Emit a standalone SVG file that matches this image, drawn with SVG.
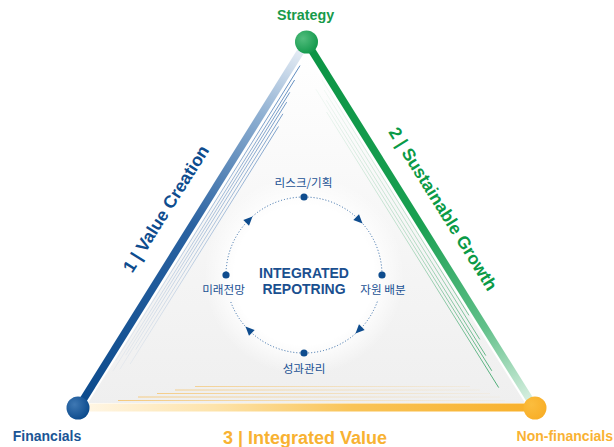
<svg xmlns="http://www.w3.org/2000/svg" width="614" height="447" viewBox="0 0 614 447">
<style>
.lat{font-family:"Liberation Sans",Arial,sans-serif;font-weight:bold}
.kr{font-family:"Noto Sans CJK KR","Noto Sans",sans-serif;font-size:11.6px;fill:#1b5294}
.thinb{stroke:url(#gThinB);stroke-width:0.9;fill:none}
.thing{stroke:url(#gThinG);stroke-width:0.9;fill:none}
.thino{stroke:url(#gThinO);stroke-width:1.2;fill:none}
.dot{fill:#0e4c8e}
.arr{fill:#0e4c8e}
</style>
<defs>
<linearGradient id="gFill" x1="0" y1="50" x2="0" y2="405" gradientUnits="userSpaceOnUse">
<stop offset="0" stop-color="#ffffff"/><stop offset="0.45" stop-color="#f7f7f7"/><stop offset="1" stop-color="#efefef"/>
</linearGradient>
<radialGradient id="gGlow" cx="304" cy="275" r="100" gradientUnits="userSpaceOnUse">
<stop offset="0" stop-color="#fff"/><stop offset="0.7" stop-color="#fff"/><stop offset="1" stop-color="#fff" stop-opacity="0"/>
</radialGradient>
<linearGradient id="gBlue" x1="78" y1="408" x2="306.5" y2="42" gradientUnits="userSpaceOnUse">
<stop offset="0" stop-color="#0b4a8c"/><stop offset="0.5" stop-color="#2a62a1"/><stop offset="0.8" stop-color="#8fb0d2"/><stop offset="1" stop-color="#f0f4f9"/>
</linearGradient>
<linearGradient id="gGreen" x1="306.5" y1="42" x2="535" y2="408" gradientUnits="userSpaceOnUse">
<stop offset="0" stop-color="#0b9444"/><stop offset="0.5" stop-color="#1aa052"/><stop offset="0.78" stop-color="#62c08a"/><stop offset="1" stop-color="#e4f4ea"/>
</linearGradient>
<linearGradient id="gOrange" x1="78" y1="408" x2="535" y2="408" gradientUnits="userSpaceOnUse">
<stop offset="0" stop-color="#fff7e8"/><stop offset="0.3" stop-color="#fde3aa"/><stop offset="0.6" stop-color="#f9c458"/><stop offset="1" stop-color="#f8b02a"/>
</linearGradient>
<linearGradient id="gThinB" x1="300" y1="65" x2="115" y2="370" gradientUnits="userSpaceOnUse">
<stop offset="0" stop-color="#3f74b2" stop-opacity="0.95"/><stop offset="0.6" stop-color="#6f97c6" stop-opacity="0.5"/><stop offset="1" stop-color="#a9c0dc" stop-opacity="0.15"/>
</linearGradient>
<linearGradient id="gThinG" x1="320" y1="80" x2="500" y2="390" gradientUnits="userSpaceOnUse">
<stop offset="0" stop-color="#3aaa68" stop-opacity="0.05"/><stop offset="0.5" stop-color="#3aaa68" stop-opacity="0.35"/><stop offset="1" stop-color="#2ea060" stop-opacity="0.95"/>
</linearGradient>
<linearGradient id="gThinO" x1="110" y1="0" x2="510" y2="0" gradientUnits="userSpaceOnUse">
<stop offset="0" stop-color="#f6c266" stop-opacity="0.85"/><stop offset="0.5" stop-color="#f6c266" stop-opacity="0.4"/><stop offset="1" stop-color="#f6c266" stop-opacity="0.05"/>
</linearGradient>
<radialGradient id="gBallS" cx="0.35" cy="0.35" r="0.7">
<stop offset="0" stop-color="#52bd7d"/><stop offset="1" stop-color="#12984b"/>
</radialGradient>
<radialGradient id="gBallF" cx="0.35" cy="0.35" r="0.7">
<stop offset="0" stop-color="#3f78b3"/><stop offset="1" stop-color="#0b4a8c"/>
</radialGradient>
<radialGradient id="gBallN" cx="0.35" cy="0.35" r="0.7">
<stop offset="0" stop-color="#fbbd3e"/><stop offset="1" stop-color="#f8ae27"/>
</radialGradient>
</defs>

<rect width="614" height="447" fill="#ffffff"/>

<g id="background">
<polygon points="306.5,54 88,403 525,403" fill="url(#gFill)"/>
<circle cx="304" cy="275" r="100" fill="url(#gGlow)"/>
<g id="thin-blue">
<line class="thinb" x1="300.0" y1="65.6" x2="115.7" y2="360.8"/>
<line class="thinb" x1="294.6" y1="80.0" x2="113.0" y2="370.9"/>
<line class="thinb" x1="289.8" y1="92.3" x2="125.7" y2="355.2"/>
<line class="thinb" x1="286.7" y1="102.1" x2="119.8" y2="369.3"/>
<line class="thinb" x1="282.9" y1="113.8" x2="135.7" y2="349.6"/>
<line class="thinb" x1="278.5" y1="126.5" x2="130.2" y2="364.0"/>
</g>
<g id="thin-green">
<line class="thing" x1="321.8" y1="79.6" x2="469.0" y2="315.4"/>
<line class="thing" x1="324.1" y1="90.0" x2="479.8" y2="339.4"/>
<line class="thing" x1="326.4" y1="100.3" x2="485.8" y2="355.6"/>
<line class="thing" x1="315.9" y1="89.2" x2="491.8" y2="370.8"/>
<line class="thing" x1="326.6" y1="112.0" x2="498.7" y2="387.6"/>
</g>
<g id="thin-orange">
<line class="thino" x1="118" y1="400.5" x2="505" y2="400.5"/>
<line class="thino" x1="138" y1="397" x2="500" y2="397"/>
<line class="thino" x1="157" y1="393.5" x2="490" y2="393.5"/>
<line class="thino" x1="175" y1="390" x2="480" y2="390"/>
<line class="thino" x1="195" y1="386.5" x2="470" y2="386.5"/>
</g>
</g>

<g id="connectors">
<line id="edge-value-creation" x1="78" y1="408" x2="306.5" y2="42" stroke="url(#gBlue)" stroke-width="7.5"/>
<line id="edge-sustainable-growth" x1="306.5" y1="42" x2="535" y2="408" stroke="url(#gGreen)" stroke-width="7.5"/>
<line id="edge-integrated-value" x1="78" y1="407.5" x2="535" y2="407.5" stroke="url(#gOrange)" stroke-width="8"/>
<g id="cycle" fill="none" stroke="#2f67a5" stroke-width="1" stroke-dasharray="1 2">
<path d="M377.3,301.7 A78,78 0 0 1 230.7,301.7"/>
<path d="M226,275 A78,78 0 0 1 382,275"/>
</g>
<g id="cycle-arrows">
<path class="arr" d="M5,0 L-4,-4 L-4,4 Z" transform="translate(249,220) rotate(-45)"/>
<path class="arr" d="M5,0 L-4,-4 L-4,4 Z" transform="translate(359,220) rotate(45)"/>
<path class="arr" d="M5,0 L-4,-4 L-4,4 Z" transform="translate(359,330) rotate(135)"/>
<path class="arr" d="M5,0 L-4,-4 L-4,4 Z" transform="translate(249,330) rotate(-135)"/>
</g>
<text class="lat" font-size="17.5" fill="#0e4c8e" text-anchor="middle" transform="translate(171,212) rotate(-57.9)">1 | Value Creation</text>
<text class="lat" font-size="17.5" fill="#0a9a46" text-anchor="middle" transform="translate(438,212) rotate(58)">2 | Sustainable Growth</text>
<text class="lat" font-size="18" fill="#f8b232" text-anchor="middle" x="305" y="444">3 | Integrated Value</text>
</g>

<g id="node-strategy">
<circle cx="306.5" cy="42" r="11.5" fill="url(#gBallS)"/>
<text class="lat" font-size="14.3" fill="#179a4a" text-anchor="middle" x="305.5" y="20">Strategy</text>
</g>
<g id="node-financials">
<circle cx="78" cy="408" r="11.5" fill="url(#gBallF)"/>
<text class="lat" font-size="14" fill="#1a5595" text-anchor="middle" x="47" y="441">Financials</text>
</g>
<g id="node-nonfinancials">
<circle cx="535" cy="408" r="11.5" fill="url(#gBallN)"/>
<text class="lat" font-size="14" fill="#f9b233" text-anchor="end" x="613" y="441">Non-financials</text>
</g>

<g id="node-center">
<text class="lat" font-size="14" fill="#1a4f8f" text-anchor="middle" x="304" y="278">INTEGRATED</text>
<text class="lat" font-size="14" fill="#1a4f8f" text-anchor="middle" x="304" y="294">REPOTRING</text>
</g>
<g id="node-risk">
<circle class="dot" cx="304" cy="197" r="3.6"/>
<text class="kr" text-anchor="middle" x="303.5" y="187">리스크/기획</text>
</g>
<g id="node-resource">
<circle class="dot" cx="382" cy="275" r="3.6"/>
<text class="kr" text-anchor="middle" x="383" y="294">자원 배분</text>
</g>
<g id="node-performance">
<circle class="dot" cx="304" cy="353" r="3.6"/>
<text class="kr" text-anchor="middle" x="304" y="373">성과관리</text>
</g>
<g id="node-outlook">
<circle class="dot" cx="226" cy="275" r="3.6"/>
<text class="kr" text-anchor="middle" x="223.5" y="294">미래전망</text>
</g>
</svg>
